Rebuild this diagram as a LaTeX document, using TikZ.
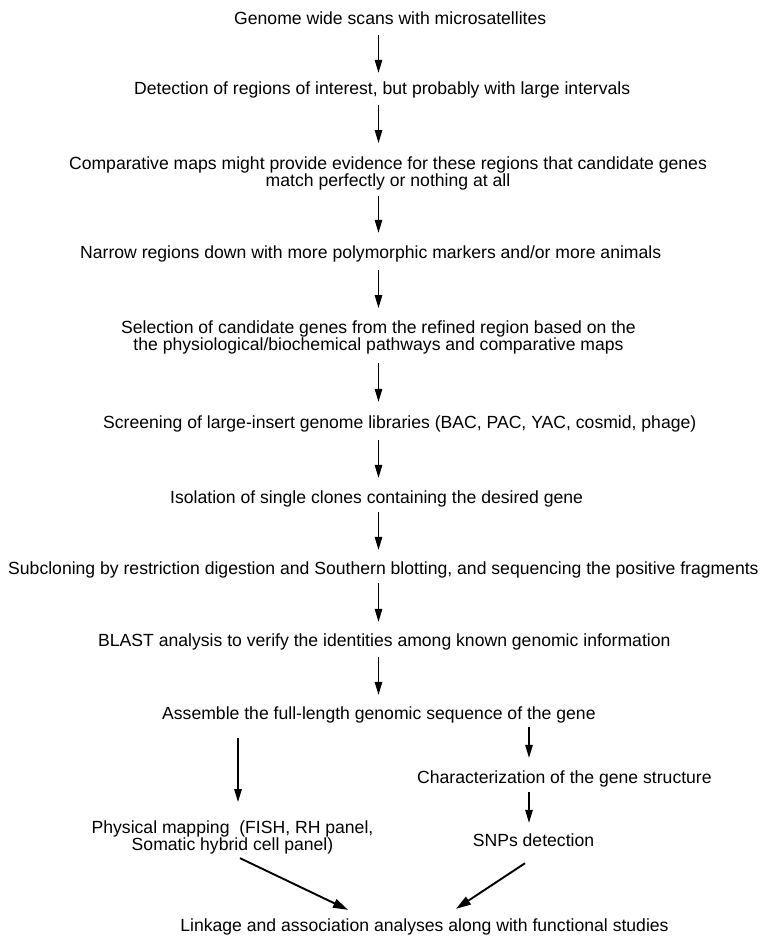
\documentclass[tikz,border=0pt]{standalone}
\usepackage{fontspec}
\setmainfont{Liberation Sans}
\usetikzlibrary{arrows.meta,calc}
\newcommand\mystrutA{\rule[-4pt]{0pt}{17pt}}
\begin{document}
\begin{tikzpicture}[x=1pt,y=-1pt,
  txt/.style={inner sep=0pt, font={\fontsize{17.6}{17}\selectfont}, align=center,
    execute at begin node=\mystrutA, execute at end node=\mystrutA},
  arr/.style={line width=1.3pt, -{Triangle[length=13pt,width=7.5pt]}},
  darr/.style={line width=1.9pt, -{Triangle[length=15pt,width=9pt]}}]
\useasboundingbox (0,0) rectangle (761,937);
\coordinate (ax) at (378.5,0);
\coordinate (lx) at (238,0);
\coordinate (rx) at (529,0);

\node[txt, anchor=base west] (n1) at (234,24) {Genome wide scans with microsatellites};
\node[txt, anchor=base west] (n2) at (134,94) {Detection of regions of interest, but probably with large intervals};
\node[txt, anchor=north] (n3) at (388,157) {Comparative maps might provide evidence for these regions that candidate genes\\match perfectly or nothing at all};
\node[txt, anchor=base west] (n4) at (80,258) {Narrow regions down with more polymorphic markers and/or more animals};
\node[txt, anchor=north] (n5) at (378.5,321) {Selection of candidate genes from the refined region based on the\\the physiological/biochemical pathways and comparative maps};
\node[txt, anchor=base west] (n6) at (103,428) {Screening of large-insert genome libraries (BAC, PAC, YAC, cosmid, phage)};
\node[txt, anchor=base west] (n7) at (170,503) {Isolation of single clones containing the desired gene};
\node[txt, anchor=base west] (n8) at (8,574) {Subcloning by restriction digestion and Southern blotting, and sequencing the positive fragments};
\node[txt, anchor=base west] (n9) at (98,646) {BLAST analysis to verify the identities among known genomic information};
\node[txt, anchor=base west] (n10) at (162,719) {Assemble the full-length genomic sequence of the gene};
\node[txt, anchor=base west] (n11) at (417,783) {Characterization of the gene structure};
\node[txt, anchor=base] (n12) at (533.5,846) {SNPs detection};
\node[txt, anchor=north] (n13) at (232.5,821) {Physical mapping\ \ (FISH, RH panel,\\Somatic hybrid cell panel)};
\node[txt, anchor=base] (n14) at (424.5,931) {Linkage and association analyses along with functional studies};

\draw[arr, shorten <=7pt, shorten >=8pt] (n1.south -| ax) -- (n2.north -| ax);
\draw[arr, shorten <=7pt, shorten >=14pt] (n2.south -| ax) -- (n3.north -| ax);
\draw[arr, shorten <=5pt, shorten >=12pt] (n3.south -| ax) -- (n4.north -| ax);
\draw[arr, shorten <=8pt, shorten >=13pt] (n4.south -| ax) -- (n5.north -| ax);
\draw[arr, shorten <=8pt, shorten >=13pt] (n5.south -| ax) -- (n6.north -| ax);
\draw[arr, shorten <=8pt, shorten >=12pt] (n6.south -| ax) -- (n7.north -| ax);
\draw[arr, shorten <=5pt, shorten >=11pt] (n7.south -| ax) -- (n8.north -| ax);
\draw[arr, shorten <=5pt, shorten >=11pt] (n8.south -| ax) -- (n9.north -| ax);
\draw[arr, shorten <=7pt, shorten >=11pt] (n9.south -| ax) -- (n10.north -| ax);

\draw[arr, shorten <=15pt, shorten >=19pt] (n10.south -| lx) -- (n13.north -| lx);
\draw[arr, shorten <=4pt, shorten >=12pt] (n10.south -| rx) -- (n11.north -| rx);
\draw[arr, shorten <=5pt, shorten >=10pt] (n11.south -| rx) -- (n12.north -| rx);

\draw[darr] ($(n13.south)+(7.5,3)$) -- ($(n14.north)+(-76.5,-8)$);
\draw[darr] ($(n12.south)+(-8.5,13)$) -- ($(n14.north)+(31.5,-9)$);
\end{tikzpicture}
\end{document}
